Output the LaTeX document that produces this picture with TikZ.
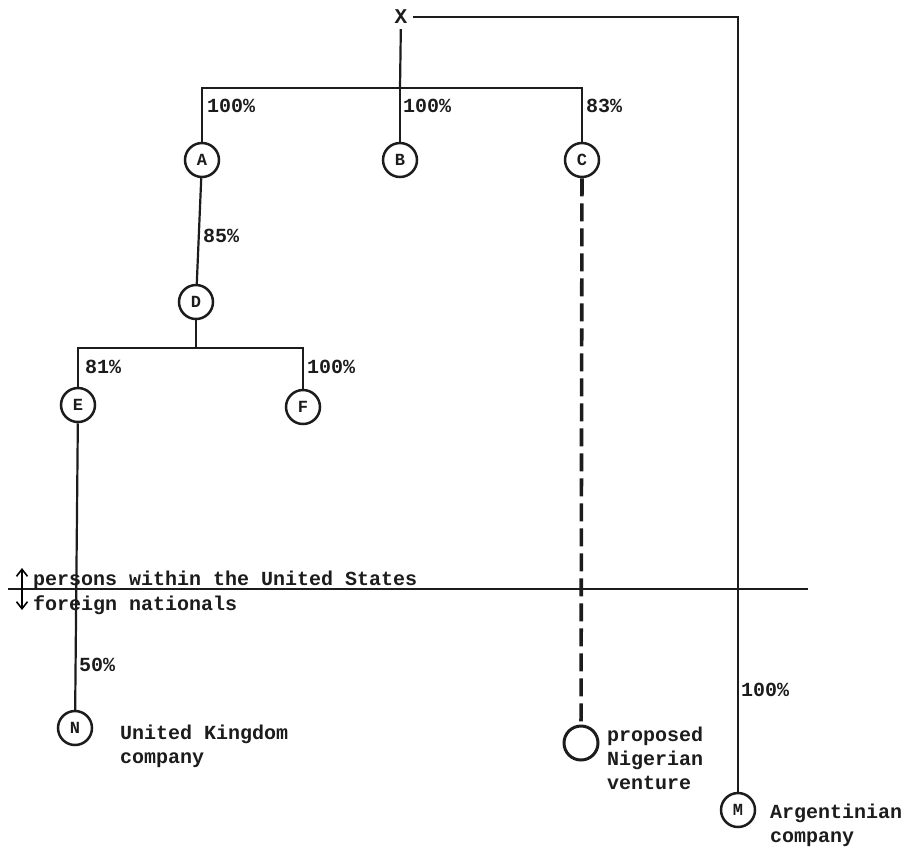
\documentclass[tikz,border=0pt]{standalone}
\usepackage{fontspec}
\setmonofont{Liberation Mono}
\usetikzlibrary{arrows.meta,positioning,calc}
\definecolor{ink}{HTML}{1C1C1C}
\tikzset{
  co/.style={circle, draw=ink, line width=2.5pt, inner sep=0pt, minimum size=34pt,
    font=\ttfamily\bfseries\fontsize{17}{17}\selectfont},
  pct/.style={anchor=west, inner sep=1pt, font=\ttfamily\bfseries\fontsize{20}{20}\selectfont},
  note/.style={anchor=base west, align=left, inner sep=0pt,
    font=\ttfamily\bfseries\fontsize{20}{24}\selectfont},
  own/.style={draw=ink, line width=2.2pt},
  plan/.style={draw=ink, line width=3.6pt, dash pattern=on 18pt off 7pt},
  tip/.style={-{Straight Barb[length=7pt,width=11pt]}, line width=1.6pt},
}

\begin{document}
\begin{tikzpicture}[x=1pt, y=-1pt, text=ink]
  \useasboundingbox (0,0) rectangle (912,847);
  % companies
  \node[font=\ttfamily\bfseries\fontsize{21}{21}\selectfont, inner sep=5pt] (x) at (401,17) {X};
  \node[co] (a) at (202,160) {A};
  \node[co] (b) at (400,160) {B};
  \node[co] (c) at (582,160) {C};
  \node[co] (d) at (196,302) {D};
  \node[co] (e) at (78,405) {E};
  \node[co] (f) at (303,407) {F};
  \node[co] (n) at (75,728) {N};
  \node[co, line width=3pt] (ng) at (581,743) {};
  \node[co] (m) at (738,810) {M};
  \coordinate (xbar) at (400,88);
  \coordinate (dbar) at (196,348);
  % holdings
  \draw[own] (x) -- (xbar);
  \draw[own] (a) -- (a |- xbar) -- (c |- xbar) -- (c);
  \draw[own] (b) -- (b |- xbar);
  \draw[own] (a) -- (d);
  \draw[own] (d) -- (dbar);
  \draw[own] (e) -- (e |- dbar) -- (f |- dbar) -- (f);
  \draw[own] (e) -- (n);
  \draw[own] (x.east) -- (x.east -| m) -- (m);
  \draw[plan] (c) -- (ng);
  \node[pct] (pa) at (206,106) {100\%};
  \node[pct] (pb) at (402,106) {100\%};
  \node[pct] (pc) at (585,106) {83\%};
  \node[pct] (pd) at (202,236) {85\%};
  \node[pct] (pe) at (84,367) {81\%};
  \node[pct] (pf) at (306,367) {100\%};
  \node[pct] (pn) at (78,665) {50\%};
  \node[pct] (pm) at (740,690) {100\%};
  % border line
  \coordinate (lft) at (8,589);
  \coordinate (rgt) at (808,589);
  \coordinate (arr) at (22,589);
  \draw[own] (lft) -- (rgt);
  \draw[tip] (arr) -- ++(0,-21);
  \draw[tip] (arr) -- ++(0,21);
  \node[note] (us) at (33,585) {persons within the United States};
  \node[note] (fn) at (33,610) {foreign nationals};
  % names
  \node[note] (uk) at (120,763) {United Kingdom\\company};
  \node[note] (nv) at (607,789) {proposed\\Nigerian\\venture};
  \node[note] (ar) at (770,842) {Argentinian\\company};
\end{tikzpicture}
\end{document}
